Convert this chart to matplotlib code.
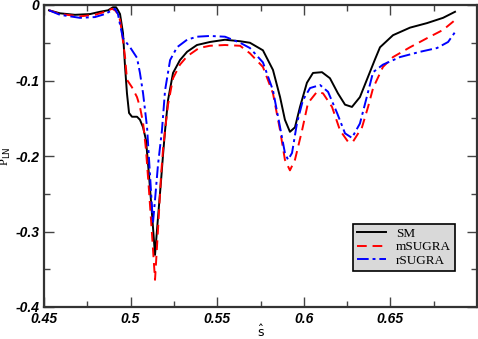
import numpy as np
import matplotlib
matplotlib.use('Agg')
import matplotlib.pyplot as plt
from matplotlib.ticker import MultipleLocator

# s-hat values and P_LN for each model
sm_s = [0.4529, 0.4592, 0.4679, 0.4766, 0.4823, 0.4870, 0.4898, 0.4916, 0.4927, 0.4939,
        0.4956, 0.4968, 0.4979, 0.4991, 0.5008, 0.5037, 0.5054, 0.5072, 0.5089, 0.5106,
        0.5124, 0.5141, 0.5158, 0.5176, 0.5187, 0.5199, 0.5216, 0.5245, 0.5285, 0.5326,
        0.5383, 0.5458, 0.5545, 0.5632, 0.5689, 0.5764, 0.5822, 0.5863, 0.5891, 0.5920,
        0.5949, 0.5978, 0.6018, 0.6053, 0.6105, 0.6151, 0.6197, 0.6238, 0.6278, 0.6324,
        0.6371, 0.6411, 0.6440, 0.6515, 0.6613, 0.6711, 0.6804, 0.6873]
sm_p = [-0.007, -0.011, -0.013, -0.012, -0.009, -0.007, -0.003, -0.003, -0.007, -0.012,
        -0.037, -0.082, -0.117, -0.143, -0.148, -0.148, -0.152, -0.162, -0.179, -0.225,
        -0.278, -0.331, -0.282, -0.232, -0.199, -0.166, -0.126, -0.090, -0.073, -0.062,
        -0.053, -0.049, -0.046, -0.048, -0.050, -0.060, -0.086, -0.122, -0.152, -0.168,
        -0.162, -0.135, -0.103, -0.090, -0.089, -0.097, -0.117, -0.132, -0.135, -0.122,
        -0.095, -0.072, -0.056, -0.040, -0.030, -0.024, -0.017, -0.009]

msugra_s = [0.4529, 0.4592, 0.4708, 0.4794, 0.4852, 0.4893, 0.4910, 0.4927, 0.4939, 0.4950,
            0.4968, 0.4979, 0.5008, 0.5037, 0.5054, 0.5072, 0.5089, 0.5106, 0.5124, 0.5141,
            0.5158, 0.5176, 0.5187, 0.5199, 0.5216, 0.5245, 0.5285, 0.5326, 0.5395, 0.5458,
            0.5545, 0.5632, 0.5689, 0.5764, 0.5822, 0.5863, 0.5891, 0.5920, 0.5949, 0.5990,
            0.6024, 0.6076, 0.6111, 0.6163, 0.6209, 0.6255, 0.6284, 0.6336, 0.6371, 0.6400,
            0.6457, 0.6515, 0.6613, 0.6711, 0.6804, 0.6873]
msugra_p = [-0.007, -0.012, -0.015, -0.013, -0.009, -0.005, -0.007, -0.012, -0.020, -0.037,
            -0.069, -0.099, -0.109, -0.122, -0.135, -0.156, -0.192, -0.245, -0.305, -0.364,
            -0.298, -0.225, -0.192, -0.166, -0.132, -0.097, -0.079, -0.068, -0.057, -0.054,
            -0.053, -0.054, -0.064, -0.082, -0.117, -0.166, -0.205, -0.219, -0.205, -0.166,
            -0.130, -0.115, -0.117, -0.135, -0.166, -0.181, -0.181, -0.162, -0.135, -0.110,
            -0.082, -0.069, -0.056, -0.044, -0.033, -0.020]

rsugra_s = [0.4529, 0.4592, 0.4708, 0.4794, 0.4852, 0.4893, 0.4910, 0.4927, 0.4939, 0.4956,
            0.4997, 0.5037, 0.5054, 0.5072, 0.5095, 0.5112, 0.5129, 0.5141, 0.5158, 0.5181,
            0.5199, 0.5228, 0.5268, 0.5326, 0.5383, 0.5458, 0.5545, 0.5632, 0.5689, 0.5764,
            0.5822, 0.5863, 0.5891, 0.5909, 0.5932, 0.5961, 0.5995, 0.6036, 0.6094, 0.6140,
            0.6192, 0.6238, 0.6278, 0.6324, 0.6359, 0.6400, 0.6457, 0.6555, 0.6671, 0.6769,
            0.6833, 0.6873]
rsugra_p = [-0.007, -0.013, -0.017, -0.016, -0.012, -0.007, -0.005, -0.012, -0.026, -0.044,
            -0.056, -0.070, -0.090, -0.117, -0.162, -0.225, -0.289, -0.258, -0.212, -0.166,
            -0.113, -0.073, -0.056, -0.046, -0.042, -0.041, -0.042, -0.050, -0.057, -0.076,
            -0.113, -0.162, -0.196, -0.205, -0.196, -0.156, -0.126, -0.110, -0.106, -0.115,
            -0.143, -0.170, -0.176, -0.157, -0.126, -0.089, -0.079, -0.069, -0.062, -0.057,
            -0.049, -0.036]

fig = plt.figure(figsize=(4.78, 3.39), dpi=100)
ax = fig.add_axes([44 / 478, 32 / 339, 433 / 478, 302 / 339])

ax.plot(sm_s, sm_p, color='black', lw=1.4, label='SM')
ax.plot(msugra_s, msugra_p, color='red', lw=1.4, ls=(0, (5, 3)), label='mSUGRA')
ax.plot(rsugra_s, rsugra_p, color='blue', lw=1.4, ls=(0, (6, 2, 1.5, 2)), label='rSUGRA')

ax.set_xlim(0.45, 0.70)
ax.set_ylim(-0.4, 0.0)
ax.xaxis.set_major_locator(MultipleLocator(0.05))
ax.xaxis.set_minor_locator(MultipleLocator(0.025))
ax.yaxis.set_major_locator(MultipleLocator(0.1))
ax.yaxis.set_minor_locator(MultipleLocator(0.05))
ax.tick_params(which='both', direction='in', top=True, right=True, width=1, color='#444444')
ax.tick_params(which='major', length=7)
ax.tick_params(which='minor', length=4)
ax.set_xticks([0.45, 0.5, 0.55, 0.6, 0.65])
ax.set_xticklabels(['0.45', '0.5', '0.55', '0.6', '0.65'])
ax.set_yticks([0, -0.1, -0.2, -0.3, -0.4])
ax.set_yticklabels(['0', '-0.1', '-0.2', '-0.3', '-0.4'])
for lab in ax.get_xticklabels() + ax.get_yticklabels():
    lab.set_fontfamily('Liberation Sans')
    lab.set_fontweight('bold')
    lab.set_fontstyle('italic')
    lab.set_fontsize(10)
for sp in ax.spines.values():
    sp.set_linewidth(1.6)
    sp.set_color('#333333')

plt.rcParams['mathtext.fontset'] = 'stix'
ax.set_ylabel(r'P$_{\mathrm{LN}}$', fontfamily='Liberation Serif', fontsize=9, va='center')
ax.yaxis.set_label_coords(-0.088, 0.5)
ax.set_xlabel(r'$\hat{\mathrm{s}}$', fontsize=9)
ax.xaxis.set_label_coords(0.5, -0.055)

leg = ax.legend(loc='upper left', bbox_to_anchor=(302 / 433, 1 - 212 / 302),
                prop={'family': 'Liberation Serif', 'size': 9.5},
                fancybox=False, framealpha=1, facecolor='#d9d9d9', edgecolor='black',
                handlelength=2.2, borderpad=0.3, labelspacing=0.1, handletextpad=0.8)
leg.get_frame().set_linewidth(1.2)

fig.savefig('out.png', dpi=100)
